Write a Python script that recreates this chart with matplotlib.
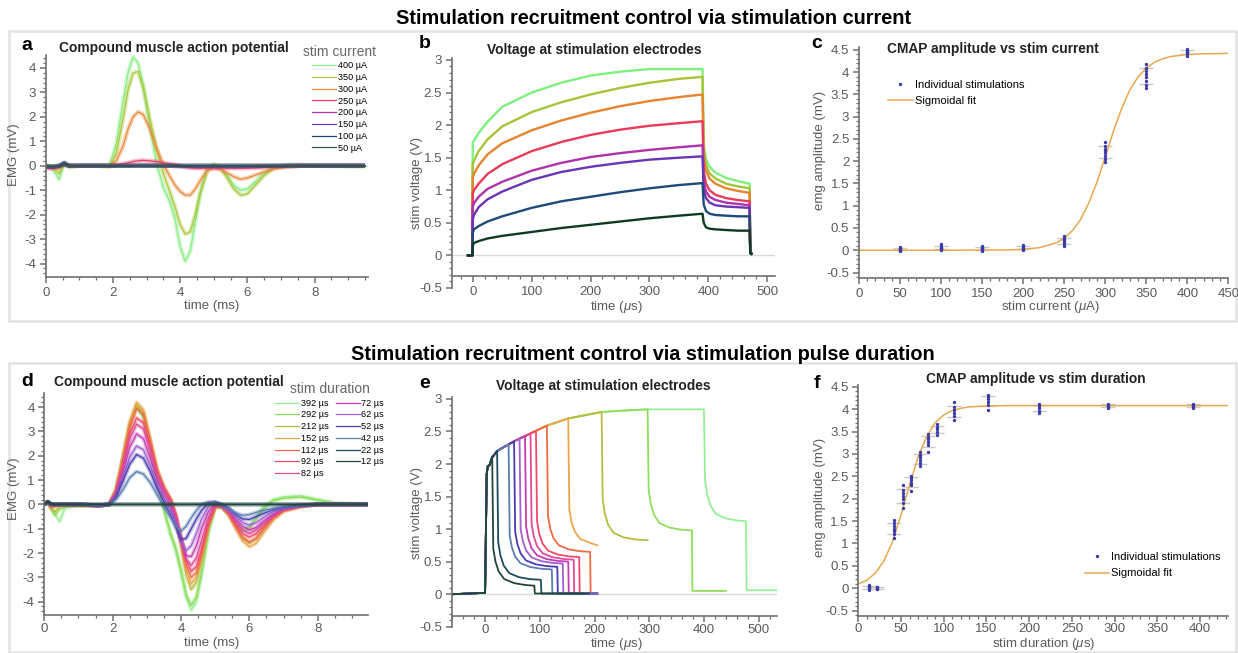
import numpy as np
import matplotlib.pyplot as plt
from matplotlib.patches import Rectangle
from matplotlib.ticker import MultipleLocator, FuncFormatter

plt.rcParams['font.family'] = ['Liberation Sans', 'DejaVu Sans']
plt.rcParams['mathtext.fontset'] = 'custom'
plt.rcParams['mathtext.rm'] = 'Liberation Sans'
plt.rcParams['mathtext.it'] = 'Liberation Sans:italic'
plt.rcParams['axes.unicode_minus'] = False

# ---------------- panel a: CMAP vs stim current ----------------
t_a = [0, 0.2, 0.4, 0.55, 0.7, 1.0, 1.5, 1.9, 2.1, 2.3, 2.45, 2.6, 2.75, 2.9, 3.1, 3.3, 3.5, 3.7, 3.85,
       4.0, 4.15, 4.3, 4.45, 4.6, 4.8, 5.0, 5.2, 5.4, 5.6, 5.8, 6.0, 6.2, 6.5, 6.8, 7.2, 7.6, 8.0, 9.5]
emg_400 = [0, -0.1, -0.55, 0.1, -0.05, 0, 0, 0, 0.9, 2.6, 3.8, 4.45, 4.2, 3.3, 1.6, 0.1, -0.9, -1.5, -2.2,
           -3.3, -3.9, -3.5, -2.3, -1.1, -0.2, 0.05, -0.1, -0.4, -0.8, -1.0, -0.95, -0.7, -0.3, -0.05, 0.05, 0.05, 0, -0.05]
emg_350 = [0, -0.05, -0.3, 0.1, -0.05, 0, 0, -0.05, 0.5, 1.9, 3.1, 3.8, 3.85, 3.2, 1.9, 0.7, -0.3, -1.1, -1.7,
           -2.4, -2.8, -2.7, -2.0, -1.1, -0.2, 0.05, -0.1, -0.5, -0.95, -1.2, -1.15, -0.85, -0.4, -0.1, 0, 0, 0, 0]
emg_300 = [0, -0.05, -0.1, 0.1, 0, 0, 0, 0, 0.2, 0.8, 1.5, 2.0, 2.2, 2.1, 1.5, 0.7, 0.05, -0.45, -0.8,
           -1.05, -1.2, -1.2, -0.95, -0.6, -0.2, -0.1, -0.15, -0.3, -0.45, -0.55, -0.5, -0.4, -0.25, -0.12, -0.05, 0, 0, 0]
emg_250 = [-0.1, -0.12, -0.05, 0.05, 0, 0, 0, 0, 0.03, 0.08, 0.12, 0.17, 0.2, 0.22, 0.2, 0.17, 0.12, 0.08, 0.05,
           0.0, -0.05, -0.08, -0.1, -0.1, -0.1, -0.1, -0.1, -0.1, -0.1, -0.1, -0.1, -0.09, -0.07, -0.05, -0.03, 0, 0, 0]
emg_200 = [-0.05, -0.05, -0.02, 0.05, 0, 0, 0, 0, 0, 0, 0, 0.01, 0.02, 0.02, 0.02, 0.01, 0, 0, -0.02,
           -0.03, -0.04, -0.05, -0.05, -0.05, -0.05, -0.05, -0.05, -0.05, -0.05, -0.05, -0.04, -0.03, -0.02, -0.01, 0, 0, 0, 0]
emg_150 = [-0.05, -0.05, 0, 0.12, 0, 0, 0, 0, 0, 0, 0, 0, 0, 0, 0, 0, 0, 0, 0,
           0, 0, 0, 0, 0, 0, 0, 0, 0, 0, 0, 0, 0, 0, 0, 0, 0, 0, 0]
emg_100 = [-0.03, -0.04, 0, 0.12, 0, 0, 0, 0, 0, 0, 0, 0, 0, 0, 0, 0, 0, 0, 0,
           0, 0, 0, 0, 0, 0, 0, 0, 0, 0, 0, 0, 0, 0, 0, 0, 0, 0, 0]
emg_50 = [0, -0.02, 0, 0.04, 0, 0, 0, 0, 0, 0, 0, 0, 0, 0, 0, 0, 0, 0, 0,
          0, 0, 0, 0, 0, 0, 0, 0, 0, 0, 0, 0, 0, 0, 0, 0, 0, 0, 0]
current_labels = ['400 µA', '350 µA', '300 µA', '250 µA', '200 µA', '150 µA', '100 µA', '50 µA']
current_colors = ['#86ee86', '#a9c93c', '#eb8a3a', '#ec3d62', '#b236aa', '#6b38bb', '#1f4775', '#2f5a46']

# ---------------- panel b: stim voltage vs current ----------------
t_b = [-8, -0.5, 0, 2, 10, 25, 50, 100, 150, 200, 250, 300, 350, 390, 392, 396, 402, 412, 430, 450, 470, 471, 473]
volt_400 = [0, 0, 1.72, 1.76, 1.88, 2.05, 2.28, 2.5, 2.65, 2.76, 2.82, 2.86, 2.86, 2.86, 1.7, 1.48, 1.36, 1.27, 1.19, 1.14, 1.1, 0.05, 0.03]
volt_350 = [0, 0, 1.4, 1.45, 1.6, 1.78, 1.98, 2.2, 2.35, 2.47, 2.57, 2.65, 2.71, 2.74, 1.6, 1.38, 1.26, 1.18, 1.1, 1.06, 1.03, 0.05, 0.03]
volt_300 = [0, 0, 1.2, 1.25, 1.38, 1.55, 1.72, 1.92, 2.07, 2.19, 2.29, 2.37, 2.43, 2.47, 1.5, 1.3, 1.18, 1.1, 1.03, 0.99, 0.96, 0.05, 0.03]
volt_250 = [0, 0, 0.95, 1.0, 1.1, 1.25, 1.4, 1.6, 1.74, 1.85, 1.93, 1.99, 2.03, 2.06, 1.3, 1.1, 1.0, 0.93, 0.88, 0.85, 0.83, 0.05, 0.03]
volt_200 = [0, 0, 0.75, 0.8, 0.9, 1.02, 1.13, 1.3, 1.42, 1.51, 1.57, 1.62, 1.66, 1.69, 1.12, 0.98, 0.9, 0.85, 0.81, 0.79, 0.77, 0.05, 0.03]
volt_150 = [0, 0, 0.55, 0.62, 0.74, 0.86, 0.98, 1.16, 1.28, 1.36, 1.42, 1.47, 1.5, 1.52, 1.0, 0.88, 0.81, 0.77, 0.75, 0.74, 0.73, 0.05, 0.03]
volt_100 = [0, 0, 0.35, 0.4, 0.45, 0.52, 0.6, 0.73, 0.83, 0.9, 0.97, 1.03, 1.08, 1.11, 0.78, 0.68, 0.64, 0.62, 0.61, 0.6, 0.6, 0.05, 0.03]
volt_50 = [0, 0, 0.15, 0.19, 0.22, 0.26, 0.3, 0.36, 0.42, 0.47, 0.52, 0.57, 0.61, 0.64, 0.5, 0.43, 0.41, 0.4, 0.39, 0.38, 0.38, 0.03, 0.02]
volt_colors = ['#7ef07e', '#a6c436', '#e8832e', '#ea3a5c', '#b032a8', '#6a34b8', '#1d4a7a', '#0e3a22']

# ---------------- panel c: amplitude vs current ----------------
c_currents = [50, 100, 150, 200, 250, 300, 350, 400]
c_amplitudes = [
    [-0.02, 0.0, 0.01, 0.02, 0.03, 0.04, 0.05, 0.07],
    [0.0, 0.02, 0.04, 0.05, 0.06, 0.08, 0.1, 0.13],
    [-0.01, 0.01, 0.03, 0.04, 0.05, 0.06, 0.08, 0.1],
    [0.0, 0.02, 0.03, 0.05, 0.06, 0.08, 0.1, 0.11],
    [0.1, 0.14, 0.17, 0.2, 0.22, 0.25, 0.28, 0.31],
    [1.98, 2.05, 2.12, 2.18, 2.22, 2.28, 2.34, 2.42],
    [3.65, 3.72, 3.8, 3.88, 3.95, 4.02, 4.1, 4.18],
    [4.36, 4.4, 4.42, 4.44, 4.46, 4.48, 4.5, 4.52],
]
c_fit_x = [0, 100, 150, 180, 200, 220, 240, 250, 260, 270, 280, 290, 300, 310, 320, 330, 340, 350, 360, 370, 380, 400, 420, 450]
c_fit_y = [0, 0, 0.005, 0.007, 0.02, 0.058, 0.163, 0.27, 0.44, 0.69, 1.06, 1.53, 2.09, 2.67, 3.18, 3.6, 3.89,
           4.09, 4.22, 4.3, 4.35, 4.395, 4.41, 4.42]

# ---------------- panel d: CMAP vs stim duration ----------------
t_d = [0, 0.1, 0.2, 0.3, 0.45, 0.6, 1.0, 1.6, 1.9, 2.1, 2.3, 2.5, 2.7, 2.9, 3.1, 3.3, 3.5, 3.7, 3.85,
       4.0, 4.15, 4.3, 4.45, 4.6, 4.8, 5.0, 5.2, 5.4, 5.6, 5.8, 6.0, 6.2, 6.4, 6.7, 7.0, 7.5, 8.0, 8.5, 9.5]
emg_392 = [0, 0.1, -0.1, -0.35, -0.7, -0.15, -0.05, -0.05, 0, 0.6, 1.9, 3.3, 4.05, 3.6, 2.4, 1.0, -0.2, -1.3, -1.9,
           -2.8, -3.8, -4.35, -4.0, -2.9, -1.2, -0.1, -0.1, -0.4, -0.8, -1.0, -0.9, -0.5, -0.1, 0.2, 0.3, 0.35, 0.2, 0.05, 0]
emg_292 = [0, 0.1, -0.15, -0.45, -0.2, -0.1, -0.05, -0.05, 0, 0.6, 1.9, 3.2, 4.0, 3.6, 2.4, 1.0, -0.2, -1.2, -1.8,
           -2.7, -3.7, -4.15, -3.8, -2.8, -1.1, -0.1, -0.15, -0.45, -0.85, -1.1, -1.0, -0.6, -0.2, 0.15, 0.25, 0.3, 0.18, 0.05, 0]
emg_212 = [0, 0.1, -0.2, -0.3, -0.1, -0.05, -0.05, -0.05, 0, 0.6, 1.9, 3.3, 4.1, 3.8, 2.6, 1.4, 0.65, 0.15, -0.6,
           -1.7, -2.9, -3.5, -3.2, -2.3, -0.9, -0.05, -0.1, -0.4, -0.9, -1.4, -1.6, -1.4, -1.0, -0.5, -0.25, -0.08, 0, 0, 0]
emg_152 = [0, 0.1, -0.15, -0.1, -0.05, -0.05, -0.05, -0.05, 0, 0.6, 1.95, 3.4, 4.2, 3.9, 2.7, 1.45, 0.7, 0.2, -0.5,
           -1.6, -2.7, -3.25, -3.0, -2.2, -0.9, -0.1, -0.1, -0.45, -1.0, -1.5, -1.75, -1.6, -1.2, -0.65, -0.3, -0.1, 0, 0, 0]
emg_112 = [0, 0.1, -0.1, -0.05, 0, 0, 0, -0.05, 0, 0.55, 1.8, 3.2, 3.95, 3.7, 2.6, 1.4, 0.7, 0.2, -0.45,
           -1.45, -2.5, -3.0, -2.8, -2.05, -0.85, -0.1, -0.1, -0.4, -0.9, -1.35, -1.55, -1.4, -1.05, -0.55, -0.25, -0.08, 0, 0, 0]
emg_92 = [0, 0.1, -0.05, 0, 0, 0, 0, -0.05, 0, 0.5, 1.6, 2.9, 3.55, 3.35, 2.4, 1.3, 0.65, 0.15, -0.45,
          -1.35, -2.3, -2.75, -2.55, -1.85, -0.75, -0.05, -0.1, -0.35, -0.8, -1.2, -1.35, -1.2, -0.9, -0.5, -0.22, -0.07, 0, 0, 0]
emg_82 = [0, 0.1, -0.05, 0, 0, 0, 0, -0.05, 0, 0.45, 1.5, 2.7, 3.3, 3.1, 2.2, 1.2, 0.55, 0.05, -0.55,
          -1.4, -2.25, -2.5, -2.2, -1.5, -0.55, 0, -0.08, -0.3, -0.7, -1.05, -1.2, -1.05, -0.8, -0.45, -0.2, -0.06, 0, 0, 0]
emg_72 = [0, 0.1, 0, 0, 0, 0, 0, -0.05, 0, 0.4, 1.3, 2.35, 2.9, 2.7, 1.9, 1.0, 0.4, -0.1, -0.65,
          -1.45, -2.1, -2.15, -1.7, -1.0, -0.3, 0.05, -0.05, -0.25, -0.6, -0.9, -1.05, -0.95, -0.7, -0.4, -0.18, -0.05, 0, 0, 0]
emg_62 = [0, 0.1, 0, 0, 0, 0, 0, -0.05, 0, 0.35, 1.1, 1.95, 2.4, 2.25, 1.6, 0.8, 0.25, -0.25, -0.75,
          -1.5, -1.9, -1.7, -1.2, -0.6, -0.1, 0.08, -0.05, -0.2, -0.5, -0.75, -0.85, -0.75, -0.55, -0.3, -0.15, -0.05, 0, 0, 0]
emg_52 = [0, 0.1, 0, 0, 0, 0, 0, -0.05, 0, 0.3, 0.95, 1.65, 2.05, 1.9, 1.35, 0.65, 0.1, -0.45, -0.95,
          -1.45, -1.4, -1.0, -0.6, -0.25, 0.05, 0.1, 0.0, -0.15, -0.4, -0.6, -0.62, -0.5, -0.38, -0.22, -0.12, -0.04, 0, 0, 0]
emg_42 = [0, 0.1, 0, 0, 0, 0, 0, -0.05, 0, 0.2, 0.6, 1.1, 1.35, 1.25, 0.9, 0.4, -0.1, -0.55, -0.9,
          -1.1, -0.9, -0.55, -0.25, 0.0, 0.1, 0.08, -0.05, -0.2, -0.35, -0.45, -0.42, -0.33, -0.25, -0.16, -0.1, -0.04, 0, 0, 0]
emg_22 = [0, 0.12, 0.02, 0, 0, 0, 0, 0, 0, 0, 0, 0, 0, 0, 0, 0, 0, 0, 0,
          0, 0, 0, 0, 0, 0, 0, 0, 0, 0, 0, 0, 0, 0, 0, 0, 0, 0, 0, 0]
emg_12 = [0, 0.1, 0.02, 0, 0, 0, 0, 0, 0, 0, 0, 0, 0, 0, 0, 0, 0, 0, 0,
          0, 0, 0, 0, 0, 0, 0, 0, 0, 0, 0, 0, 0, 0, 0, 0, 0, 0, 0, 0]
duration_labels = ['392 µs', '292 µs', '212 µs', '152 µs', '112 µs', '92 µs', '82 µs',
                   '72 µs', '62 µs', '52 µs', '42 µs', '22 µs', '12 µs']
duration_colors = ['#94f094', '#8fde5a', '#b5bd3e', '#eba64a', '#f06a45', '#f2486a', '#e04a98',
                   '#c43cb4', '#a060d0', '#4a3cb0', '#5a7eb2', '#1c4c5c', '#22463a']

# ---------------- panel e: stim voltage vs duration ----------------
env_t = [0, 3, 5, 8, 13, 22, 30, 43, 53, 63, 73, 83, 93, 113, 152, 213, 250, 297, 350, 400]
env_v = [0.02, 1.85, 1.97, 1.98, 2.1, 2.2, 2.24, 2.3, 2.35, 2.39, 2.43, 2.47, 2.51, 2.59, 2.7, 2.8, 2.82, 2.84, 2.84, 2.84]
e_t_drop = [400, 297, 213, 152, 113, 93, 83, 73, 63, 53, 43, 22, 13]
e_v_top = [2.84, 2.84, 2.8, 2.7, 2.59, 2.51, 2.47, 2.43, 2.39, 2.35, 2.3, 2.2, 2.12]
e_v_knee = [1.75, 1.6, 1.45, 1.3, 1.2, 1.12, 1.08, 1.04, 1.0, 0.96, 0.9, 0.8, 0.7]
e_v_end = [1.12, 0.98, 0.83, 0.75, 0.65, 0.57, 0.53, 0.5, 0.47, 0.42, 0.38, 0.22, 0.13]
e_t_off = [477, 378, 297, 205, 192, 172, 162, 152, 142, 132, 122, 102, 90]
e_t_last = [535, 440, 297, 205, 205, 205, 205, 205, 205, 205, 205, 190, 178]
e_v_rest = [0.06, 0.05, 0, 0, 0.01, 0.01, 0.01, 0.01, 0.01, 0.01, 0.01, 0.01, 0.01]
post_rel_t = [2, 6, 12, 22, 40, 60]
post_frac = [1.0, 0.65, 0.38, 0.18, 0.07, 0.02]

# ---------------- panel f: amplitude vs duration ----------------
f_durations = [12, 22, 42, 52, 62, 72, 82, 92, 112, 152, 212, 292, 392]
f_amplitudes = [
    [-0.03, 0.0, 0.02, 0.03, 0.05, 0.08],
    [-0.02, -0.01, 0.0, 0.01, 0.02, 0.03],
    [1.12, 1.22, 1.28, 1.33, 1.38, 1.45, 1.52],
    [1.8, 1.9, 2.0, 2.05, 2.12, 2.2, 2.3],
    [2.18, 2.3, 2.36, 2.42, 2.46, 2.5],
    [2.72, 2.8, 2.87, 2.93, 2.98, 3.05],
    [3.05, 3.2, 3.27, 3.33, 3.38, 3.45],
    [3.42, 3.5, 3.55, 3.6, 3.67],
    [3.75, 3.85, 3.92, 3.98, 4.05, 4.15],
    [3.98, 4.1, 4.17, 4.22, 4.27, 4.32],
    [3.92, 3.97, 4.02, 4.07, 4.12],
    [4.03, 4.06, 4.08, 4.1, 4.12],
    [4.03, 4.06, 4.08, 4.1, 4.12],
]
f_fit_x = [0, 10, 20, 30, 40, 50, 60, 70, 80, 90, 100, 110, 120, 130, 150, 175, 200, 433]
f_fit_y = [0.096, 0.18, 0.34, 0.61, 1.04, 1.64, 2.31, 2.93, 3.39, 3.7, 3.87, 3.97, 4.02, 4.05, 4.07, 4.08, 4.08, 4.08]

# ---------------- figure ----------------
W, H = 1238, 653
AXC = '#707070'
LBL = '#5a5a5a'
DOT = '#3a3aa8'
FIT = '#e8a850'
TICK_FS = 9.5
LABEL_FS = 9.5


def box(l, t, r, b):
    return [l / W, 1 - b / H, (r - l) / W, (b - t) / H]


def fmt(v, pos):
    return f'{v + 0.0:g}'


def style(ax, xmaj, xmin, ymaj, ymin, xpad=2.8):
    for s in ('top', 'right'):
        ax.spines[s].set_visible(False)
    for s in ('left', 'bottom'):
        ax.spines[s].set_color(AXC)
        ax.spines[s].set_linewidth(1.2)
    ax.xaxis.set_major_locator(MultipleLocator(xmaj))
    ax.xaxis.set_minor_locator(MultipleLocator(xmin))
    ax.yaxis.set_major_locator(MultipleLocator(ymaj))
    ax.yaxis.set_minor_locator(MultipleLocator(ymin))
    ax.xaxis.set_major_formatter(FuncFormatter(fmt))
    ax.yaxis.set_major_formatter(FuncFormatter(fmt))
    ax.tick_params(which='major', direction='out', length=4.2, width=1.1, color=AXC,
                   labelsize=TICK_FS, labelcolor=LBL, pad=2.8)
    ax.tick_params(axis='x', which='major', pad=xpad)
    ax.tick_params(which='minor', direction='out', length=2.3, width=0.9, color=AXC)
    ax.patch.set_alpha(0)


def labels(ax, xtext, xpos, ytext, ypos):
    # axis labels placed at their pixel centres in the figure
    ax.set_xlabel(xtext, fontsize=LABEL_FS, color=LBL, va='center')
    ax.set_ylabel(ytext, fontsize=LABEL_FS, color=LBL, va='center')
    ax.xaxis.set_label_coords(xpos[0] / W, 1 - xpos[1] / H, transform=fig.transFigure)
    ax.yaxis.set_label_coords(ypos[0] / W, 1 - ypos[1] / H, transform=fig.transFigure)


fig = plt.figure(figsize=(W / 100, H / 100), dpi=100)

# row frames, kept behind everything
fig.patches.append(Rectangle((9 / W, 1 - 321 / H), 1227 / W, 290 / H, transform=fig.transFigure,
                             fill=False, edgecolor='#e3e3e3', lw=1.8, zorder=-5))
fig.patches.append(Rectangle((9 / W, 1 - 652 / H), 1227 / W, 289 / H, transform=fig.transFigure,
                             fill=False, edgecolor='#e3e3e3', lw=1.8, zorder=-5))

fig.text(654 / W, 1 - 18 / H, 'Stimulation recruitment control via stimulation current',
         ha='center', va='center', fontsize=14.3, fontweight='bold')
fig.text(643 / W, 1 - 354 / H, 'Stimulation recruitment control via stimulation pulse duration',
         ha='center', va='center', fontsize=14.3, fontweight='bold')

ax_a = fig.add_axes(box(45.7, 55, 367.7, 277))
ax_b = fig.add_axes(box(451.7, 58, 775, 288))
ax_c = fig.add_axes(box(859, 46.7, 1228.3, 278.3))
ax_d = fig.add_axes(box(44.3, 393.3, 368.3, 615))
ax_e = fig.add_axes(box(451.7, 397, 776.7, 626.7))
ax_f = fig.add_axes(box(858.3, 385, 1228.3, 616))

for lt, x, y in [('a', 27, 45), ('b', 425, 43), ('c', 817, 43), ('d', 27, 381), ('e', 425, 383), ('f', 817, 383)]:
    fig.text(x / W, 1 - y / H, lt, ha='center', va='center', fontsize=14, fontweight='bold')

for title, x, y in [('Compound muscle action potential', 174, 48), ('Voltage at stimulation electrodes', 594, 50),
                    ('CMAP amplitude vs stim current', 993, 49), ('Compound muscle action potential', 169, 382),
                    ('Voltage at stimulation electrodes', 603, 386), ('CMAP amplitude vs stim duration', 1036, 379)]:
    fig.text(x / W, 1 - y / H, title, ha='center', va='center', fontsize=9.9, fontweight='bold', color='#222222')

# panel a
emg_current = [emg_400, emg_350, emg_300, emg_250, emg_200, emg_150, emg_100, emg_50]
handles = []
for vals, col, lab in zip(emg_current, current_colors, current_labels):
    ax_a.plot(t_a, vals, color=col, lw=3.2, alpha=0.35, solid_capstyle='butt')
    ln, = ax_a.plot(t_a, vals, color=col, lw=0.9, label=lab)
    handles.append(ln)
ax_a.axhline(0, color='#d9d9d9', lw=1, zorder=0)
ax_a.set_xlim(0, 9.58)
ax_a.set_ylim(-4.55, 4.53)
style(ax_a, 2, 0.5, 1, 0.2)
labels(ax_a, 'time (ms)', (212, 306), 'EMG (mV)', (14, 155))
leg = ax_a.legend(handles=handles, title='stim current', loc='upper left', bbox_to_anchor=(0.8, 1.047),
                  frameon=False, fontsize=6.6, title_fontsize=10, handlelength=2.6, handletextpad=0.2,
                  labelspacing=0.3, borderpad=0, borderaxespad=0)
leg.get_title().set_color('#666666')

# panel b
volt_current = [volt_400, volt_350, volt_300, volt_250, volt_200, volt_150, volt_100, volt_50]
ax_b.axhline(0, color='#d9d9d9', lw=1, zorder=0)
for vals, col in zip(volt_current, volt_colors):
    ax_b.plot(t_b, vals, color=col, lw=1.7)
ax_b.set_xlim(-35.7, 513)
ax_b.set_ylim(-0.5, 3.03)
style(ax_b, 100, 20, 0.5, 0.1)
ax_b.spines['bottom'].set_position(('data', -0.32))
labels(ax_b, r'time ($\mu$s)', (616, 307), 'stim voltage (V)', (417, 183))


def amp_panel(ax, xs, groups, fit_x, fit_y):
    means = [np.mean(g) for g in groups]
    sds = [np.std(g) for g in groups]
    ax.errorbar(xs, means, yerr=sds, fmt='none', ecolor='#c9c9c9', elinewidth=0.8, capsize=5, zorder=1)
    ax.plot(fit_x, fit_y, color=FIT, lw=1.1, zorder=2, label='Sigmoidal fit')
    px = [x for x, g in zip(xs, groups) for _ in g]
    py = [v for g in groups for v in g]
    ax.plot(px, py, ls='none', marker='.', ms=2.8, color=DOT, zorder=3, label='Individual stimulations')


# panel c
amp_panel(ax_c, c_currents, c_amplitudes, c_fit_x, c_fit_y)
ax_c.set_xlim(0, 450)
ax_c.set_ylim(-0.63, 4.57)
style(ax_c, 50, 10, 0.5, 0.1)
labels(ax_c, r'stim current ($\mu$A)', (1050, 307), 'emg amplitude (mV)', (820, 150))
h, l = ax_c.get_legend_handles_labels()
ax_c.legend(h[::-1], l[::-1], loc='upper left', bbox_to_anchor=(0.079, 0.858), frameon=False, fontsize=8,
            handlelength=2.2, handletextpad=0.2, labelspacing=0.6, borderpad=0, borderaxespad=0)

# panel d
emg_duration = [emg_392, emg_292, emg_212, emg_152, emg_112, emg_92, emg_82,
                emg_72, emg_62, emg_52, emg_42, emg_22, emg_12]
handles = []
for vals, col, lab in zip(emg_duration, duration_colors, duration_labels):
    ax_d.plot(t_d, vals, color=col, lw=3.0, alpha=0.35, solid_capstyle='butt')
    ln, = ax_d.plot(t_d, vals, color=col, lw=0.9, label=lab)
    handles.append(ln)
ax_d.axhline(0, color='#d9d9d9', lw=1, zorder=0)
ax_d.set_xlim(0, 9.48)
ax_d.set_ylim(-4.55, 4.57)
style(ax_d, 2, 0.5, 1, 0.2, xpad=1.5)
labels(ax_d, 'time (ms)', (212, 643), 'EMG (mV)', (14, 489))
leg = ax_d.legend(handles=handles, title='stim duration', loc='upper left', bbox_to_anchor=(0.712, 1.051),
                  ncol=2, frameon=False, fontsize=6.6, title_fontsize=10, handlelength=2.6, handletextpad=0.2,
                  labelspacing=0.3, columnspacing=0.8, borderpad=0, borderaxespad=0)
leg.get_title().set_color('#666666')

# panel e
ax_e.axhline(0, color='#d9d9d9', lw=1, zorder=0)
for i, col in enumerate(duration_colors):
    d = e_t_drop[i]
    ts, vs = [-58, 0], [0, 0.02]
    for t, v in zip(env_t, env_v):
        if 0 < t < d:
            ts.append(t)
            vs.append(v)
    ts.append(d)
    vs.append(e_v_top[i])
    for rt, fr in zip(post_rel_t, post_frac):
        if d + rt < e_t_off[i]:
            ts.append(d + rt)
            vs.append(e_v_end[i] + fr * (e_v_knee[i] - e_v_end[i]))
    ts.append(e_t_off[i])
    vs.append(e_v_end[i])
    if e_t_last[i] > e_t_off[i]:
        ts += [e_t_off[i] + 1, e_t_last[i]]
        vs += [e_v_rest[i], e_v_rest[i]]
    ax_e.plot(ts, vs, color=col, lw=1.3)
ax_e.set_xlim(-61, 533)
ax_e.set_ylim(-0.5, 3.03)
style(ax_e, 100, 20, 0.5, 0.1, xpad=1.2)
ax_e.spines['bottom'].set_position(('data', -0.34))
labels(ax_e, r'time ($\mu$s)', (616, 643.5), 'stim voltage (V)', (417, 513))

# panel f
amp_panel(ax_f, f_durations, f_amplitudes, f_fit_x, f_fit_y)
ax_f.set_xlim(0, 433)
ax_f.set_ylim(-0.62, 4.54)
style(ax_f, 50, 10, 0.5, 0.1, xpad=1.2)
labels(ax_f, r'stim duration ($\mu$s)', (1044, 643.5), 'emg amplitude (mV)', (820, 497))
h, l = ax_f.get_legend_handles_labels()
ax_f.legend(h[::-1], l[::-1], loc='upper left', bbox_to_anchor=(0.612, 0.278), frameon=False, fontsize=8,
            handlelength=2.2, handletextpad=0.2, labelspacing=0.6, borderpad=0, borderaxespad=0)

fig.savefig('out.png', dpi=100)
